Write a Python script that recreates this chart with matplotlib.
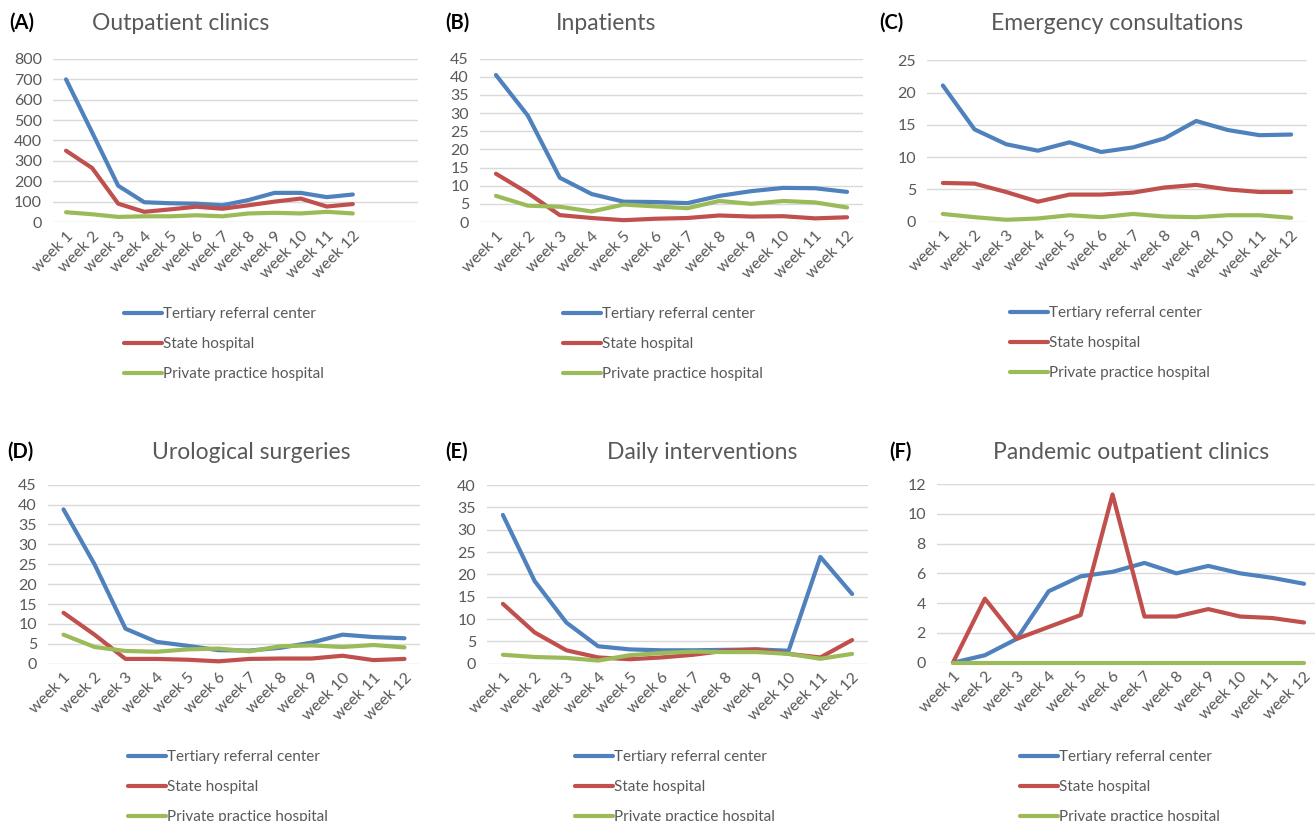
import matplotlib.pyplot as plt

plt.rcParams['font.family'] = ['Lato', 'DejaVu Sans']

weeks = ['week 1', 'week 2', 'week 3', 'week 4', 'week 5', 'week 6',
         'week 7', 'week 8', 'week 9', 'week 10', 'week 11', 'week 12']
series_names = ['Tertiary referral center', 'State hospital', 'Private practice hospital']

# (A) Outpatient clinics
outpatient_tertiary = [700, 440, 178, 97, 92, 90, 82, 108, 143, 143, 122, 135]
outpatient_state = [350, 265, 90, 50, 62, 75, 65, 82, 100, 115, 76, 88]
outpatient_private = [48, 38, 25, 28, 28, 33, 28, 42, 45, 42, 50, 42]

# (B) Inpatients
inpatient_tertiary = [40.5, 29.3, 12.2, 7.7, 5.6, 5.5, 5.2, 7.2, 8.5, 9.4, 9.3, 8.3]
inpatient_state = [13.3, 8.0, 1.9, 1.1, 0.5, 0.9, 1.1, 1.8, 1.5, 1.6, 1.0, 1.3]
inpatient_private = [7.2, 4.5, 4.2, 2.9, 4.8, 4.3, 3.8, 5.8, 5.0, 5.8, 5.4, 4.0]

# (C) Emergency consultations
emergency_tertiary = [21.1, 14.3, 12.0, 11.0, 12.3, 10.8, 11.5, 12.9, 15.6, 14.2, 13.4, 13.5]
emergency_state = [6.0, 5.9, 4.6, 3.1, 4.2, 4.2, 4.5, 5.3, 5.7, 5.0, 4.6, 4.6]
emergency_private = [1.2, 0.7, 0.3, 0.5, 1.0, 0.7, 1.2, 0.8, 0.7, 1.0, 1.0, 0.6]

# (D) Urological surgeries
surgery_tertiary = [38.8, 25.0, 8.8, 5.5, 4.5, 3.4, 3.3, 4.0, 5.3, 7.3, 6.7, 6.4]
surgery_state = [12.8, 7.3, 1.2, 1.2, 1.0, 0.6, 1.2, 1.3, 1.3, 2.0, 0.9, 1.2]
surgery_private = [7.3, 4.2, 3.2, 3.0, 3.6, 3.8, 3.1, 4.4, 4.6, 4.2, 4.7, 4.1]

# (E) Daily interventions
daily_tertiary = [33.3, 18.5, 9.2, 3.9, 3.2, 3.0, 3.0, 3.1, 3.2, 2.9, 23.9, 15.6]
daily_state = [13.4, 7.0, 3.0, 1.4, 1.0, 1.4, 2.0, 2.9, 3.2, 2.2, 1.4, 5.3]
daily_private = [2.0, 1.5, 1.3, 0.7, 1.9, 2.4, 2.7, 2.6, 2.6, 2.2, 1.1, 2.2]

# (F) Pandemic outpatient clinics
pandemic_tertiary = [0, 0.5, 1.6, 4.8, 5.8, 6.1, 6.7, 6.0, 6.5, 6.0, 5.7, 5.3]
pandemic_state = [0, 4.3, 1.6, 2.4, 3.2, 11.3, 3.1, 3.1, 3.6, 3.1, 3.0, 2.7]
pandemic_private = [0, 0, 0, 0, 0, 0, 0, 0, 0, 0, 0, 0]

colors = ['#4F81BD', '#C0504D', '#9BBB59']
grey = '#595959'

W, H = 1315, 821
fig = plt.figure(figsize=(W / 100, H / 100), dpi=100)

# panel boxes in pixels: left, right, top, bottom; plus labels and legend spot
panels = [
    dict(letter='(A)', title='Outpatient clinics', box=(53, 418, 59, 222), xmax=14.5,
         ymax=800, step=100, data=(outpatient_tertiary, outpatient_state, outpatient_private),
         lx=9, tx=181, ty=23, leg=(124, 307)),
    dict(letter='(B)', title='Inpatients', box=(480, 863, 58.7, 222), xmax=12.5,
         ymax=45, step=5, data=(inpatient_tertiary, inpatient_state, inpatient_private),
         lx=445, tx=606, ty=23, leg=(563, 307)),
    dict(letter='(C)', title='Emergency consultations', box=(927, 1307, 60.3, 221.7), xmax=12.5,
         ymax=25, step=5, data=(emergency_tertiary, emergency_state, emergency_private),
         lx=879, tx=1117, ty=23, leg=(1010, 306)),
    dict(letter='(D)', title='Urological surgeries', box=(48, 420, 484.7, 663.7), xmax=12.5,
         ymax=45, step=5, data=(surgery_tertiary, surgery_state, surgery_private),
         lx=7, tx=251, ty=452, leg=(128, 750)),
    dict(letter='(E)', title='Daily interventions', box=(487, 868, 485, 663.7), xmax=12.5,
         ymax=40, step=5, data=(daily_tertiary, daily_state, daily_private),
         lx=445, tx=702, ty=452, leg=(575, 750)),
    dict(letter='(F)', title='Pandemic outpatient clinics', box=(937, 1320, 484, 662.7), xmax=12.5,
         ymax=12, step=2, data=(pandemic_tertiary, pandemic_state, pandemic_private),
         lx=889, tx=1131, ty=452, leg=(1020, 750)),
]

x = list(range(1, 13))

for p in panels:
    l, r, t, b = p['box']
    ax = fig.add_axes([l / W, 1 - b / H, (r - l) / W, (b - t) / H])
    for vals, name, c in zip(p['data'], series_names, colors):
        ax.plot(x, vals, color=c, lw=3.0, label=name, solid_capstyle='round', clip_on=False)
    ax.set_xlim(0.5, p['xmax'])
    ax.set_ylim(0, p['ymax'])
    ax.set_yticks(range(0, p['ymax'] + 1, p['step']))
    ax.set_xticks(x)
    ax.set_xticklabels(weeks, rotation=45, ha='right', rotation_mode='anchor')
    ax.tick_params(axis='both', length=0, colors=grey, labelsize=11.5)
    ax.tick_params(axis='x', pad=5)
    ax.tick_params(axis='y', pad=8)
    ax.grid(axis='y', color='#D9D9D9', lw=1)
    ax.set_axisbelow(True)
    for s in ax.spines.values():
        s.set_visible(False)

    fig.text(p['lx'] / W, 1 - p['ty'] / H, p['letter'], fontsize=14.5, fontweight='bold',
             va='center', ha='left', color='black')
    fig.text(p['tx'] / W, 1 - p['ty'] / H, p['title'], fontsize=16.5, va='center',
             ha='center', color=grey)

    ax.legend(loc='upper left', bbox_to_anchor=(p['leg'][0] / W, 1 - p['leg'][1] / H),
              bbox_transform=fig.transFigure, frameon=False, fontsize=11,
              handlelength=2.5, handletextpad=0.05, labelspacing=1.05,
              borderpad=0, borderaxespad=0, labelcolor=grey)

fig.savefig('out.png', dpi=100)
